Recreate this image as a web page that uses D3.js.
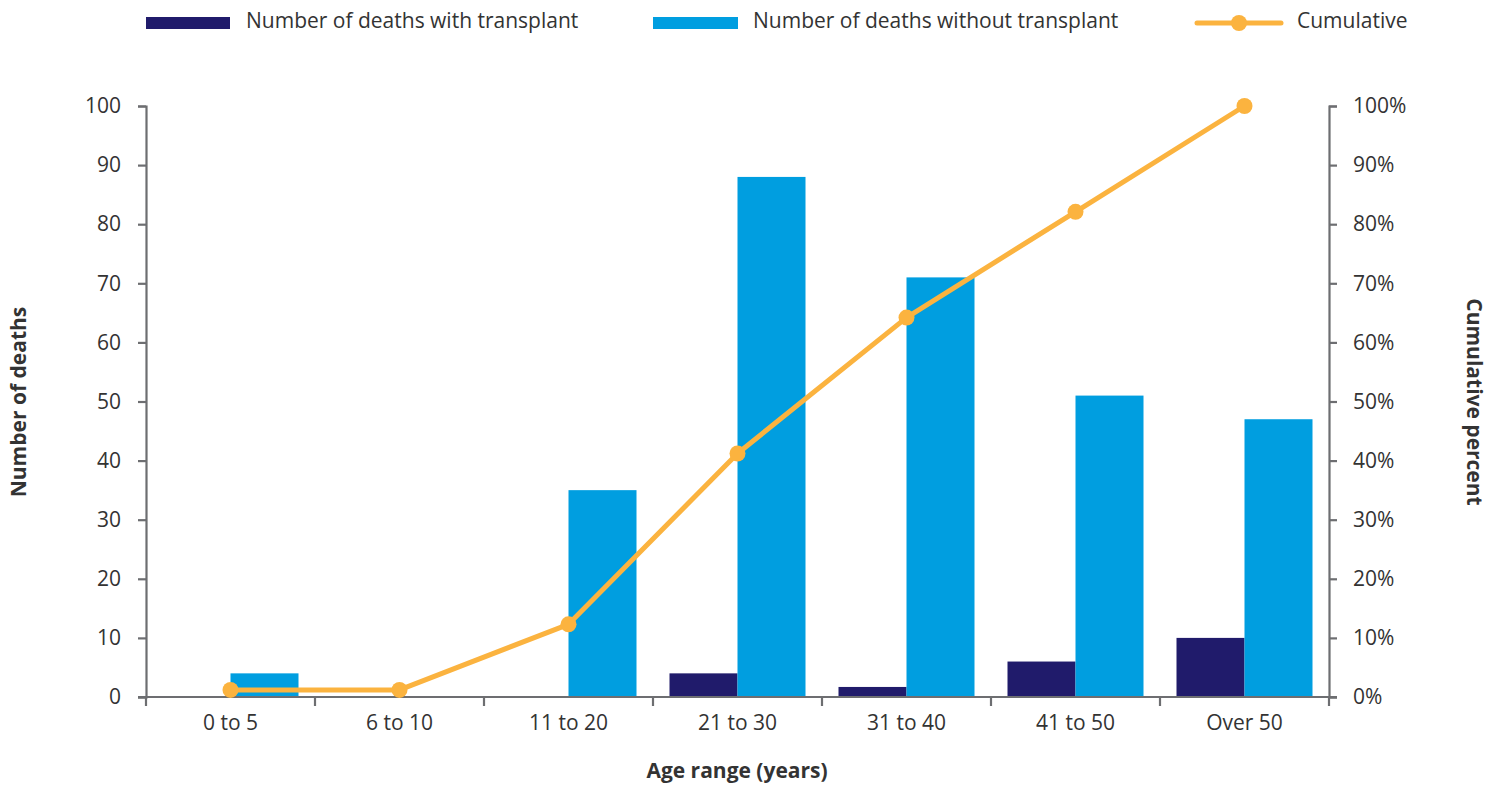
<!DOCTYPE html>
<html>
<head>
<meta charset="utf-8">
<script src="https://cdn.jsdelivr.net/npm/d3@7"></script>
<style>
  html, body { margin: 0; padding: 0; background: #fff; }
  svg { display: block; font-family: "Open Sans", sans-serif; }
</style>
</head>
<body>
<svg id="chart" width="1502" height="785"></svg>
<script>
const categories = ["0 to 5", "6 to 10", "11 to 20", "21 to 30", "31 to 40", "41 to 50", "Over 50"];
const withTransplant = [0, 0, 0, 4, 1.7, 6, 10];
const withoutTransplant = [4, 0, 35, 88, 71, 51, 47];
const cumulativePct = [1.2, 1.2, 12.3, 41.2, 64.2, 82.1, 100];
const leftTicks = [0, 10, 20, 30, 40, 50, 60, 70, 80, 90, 100];
const rightTicks = [0, 10, 20, 30, 40, 50, 60, 70, 80, 90, 100];
const seriesNames = ["Number of deaths with transplant", "Number of deaths without transplant", "Cumulative"];

const C_DARK = "#201b6b", C_LIGHT = "#009ee0", C_ORANGE = "#fbb33f", C_AXIS = "#6d6e71", C_TEXT = "#333333";
const FS = 21;

const svg = d3.select("#chart");
const L = 146, R = 1329, T = 106, B = 697;

const x = d3.scaleBand().domain(categories).range([L, R]).padding(0);
const x1 = d3.scaleBand().domain(["with", "without"]).range([16.5, x.bandwidth() - 16.5]).padding(0);
const y = d3.scaleLinear().domain([0, 100]).range([B, T]);
const y2 = d3.scaleLinear().domain([0, 100]).range([B, T]);

// bars
const rows = categories.map((c, i) => ({ c, with: withTransplant[i], without: withoutTransplant[i] }));
const g = svg.append("g");
rows.forEach(r => {
  ["with", "without"].forEach(k => {
    if (r[k] > 0) {
      g.append("rect")
        .attr("x", x(r.c) + x1(k))
        .attr("y", y(r[k]))
        .attr("width", x1.bandwidth())
        .attr("height", y(0) - y(r[k]))
        .attr("fill", k === "with" ? C_DARK : C_LIGHT);
    }
  });
});

// left axis
const ay = svg.append("g").attr("transform", `translate(${L},0)`)
  .call(d3.axisLeft(y).tickValues(leftTicks).tickSize(8).tickSizeOuter(8).tickPadding(17));
// right axis
const ay2 = svg.append("g").attr("transform", `translate(${R},0)`)
  .call(d3.axisRight(y2).tickValues(rightTicks).tickSize(8).tickSizeOuter(8).tickPadding(16).tickFormat(d => d + "%"));

// x axis
const ax = svg.append("g").attr("transform", `translate(0,${B})`);
ax.append("line").attr("x1", L - 8).attr("x2", R + 8).attr("y1", 0).attr("y2", 0)
  .attr("stroke", C_AXIS).attr("stroke-width", 2.2);
const bounds = categories.map(c => x(c)).concat([x.range()[1]]);
ax.selectAll(".bt").data(bounds).enter().append("line")
  .attr("x1", d => d).attr("x2", d => d).attr("y1", 0).attr("y2", 9)
  .attr("stroke", C_AXIS).attr("stroke-width", 2.2);
ax.selectAll(".bl").data(categories).enter().append("text")
  .attr("x", d => x(d) + x.bandwidth() / 2).attr("y", 33)
  .attr("text-anchor", "middle").attr("fill", C_TEXT).attr("font-size", FS).text(d => d);

[ay, ay2].forEach(a => {
  a.select(".domain").attr("stroke", C_AXIS).attr("stroke-width", 2.2);
  a.selectAll(".tick line").attr("stroke", C_AXIS).attr("stroke-width", 2.2);
  a.selectAll(".tick text").attr("fill", C_TEXT).attr("font-size", FS).attr("font-family", "Open Sans, sans-serif");
});

// cumulative line
const pts = categories.map((c, i) => ({ x: x(c) + x.bandwidth() / 2, y: y2(cumulativePct[i]) }));
svg.append("path").datum(pts)
  .attr("d", d3.line().x(d => d.x).y(d => d.y))
  .attr("fill", "none").attr("stroke", C_ORANGE).attr("stroke-width", 5).attr("stroke-linejoin", "round");
svg.selectAll(".pt").data(pts).enter().append("circle")
  .attr("cx", d => d.x).attr("cy", d => d.y).attr("r", 8).attr("fill", C_ORANGE);

// axis titles
svg.append("text").attr("transform", `translate(26,402) rotate(-90)`)
  .attr("text-anchor", "middle").attr("font-weight", "bold").attr("font-size", FS).attr("fill", C_TEXT)
  .text("Number of deaths");
svg.append("text").attr("transform", `translate(1467,402) rotate(90)`)
  .attr("text-anchor", "middle").attr("font-weight", "bold").attr("font-size", FS).attr("fill", C_TEXT)
  .text("Cumulative percent");
svg.append("text").attr("x", 737).attr("y", 778)
  .attr("text-anchor", "middle").attr("font-weight", "bold").attr("font-size", FS).attr("fill", C_TEXT)
  .text("Age range (years)");

// legend
const lg = svg.append("g");
const legendX = [146, 653, 1197];
lg.append("rect").attr("x", legendX[0]).attr("y", 17).attr("width", 84).attr("height", 12).attr("fill", C_DARK);
lg.append("rect").attr("x", legendX[1]).attr("y", 17).attr("width", 85).attr("height", 12).attr("fill", C_LIGHT);
lg.append("line").attr("x1", legendX[2]).attr("x2", legendX[2] + 84).attr("y1", 23).attr("y2", 23)
  .attr("stroke", C_ORANGE).attr("stroke-width", 5).attr("stroke-linecap", "round");
lg.append("circle").attr("cx", legendX[2] + 42).attr("cy", 23).attr("r", 8).attr("fill", C_ORANGE);
const textX = [246, 753, 1297];
seriesNames.forEach((s, i) => {
  lg.append("text").attr("x", textX[i]).attr("y", 28).attr("font-size", FS).attr("fill", C_TEXT).text(s);
});
</script>
</body>
</html>
